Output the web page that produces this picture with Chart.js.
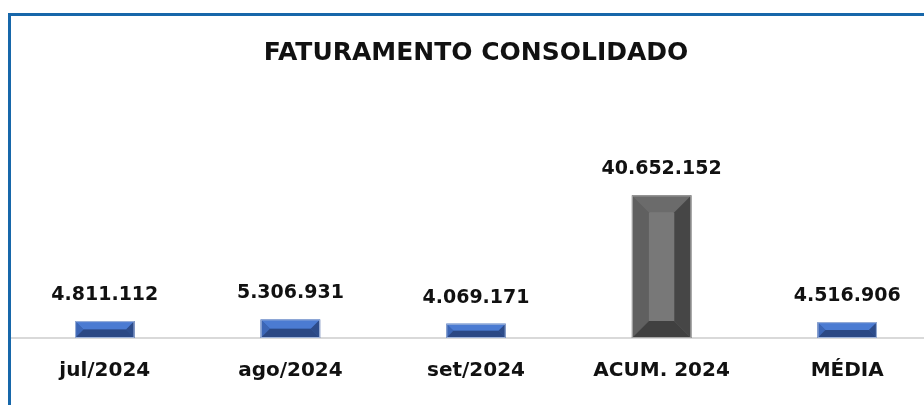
<!DOCTYPE html>
<html>
<head>
<meta charset="utf-8">
<script src="https://cdn.jsdelivr.net/npm/chart.js@4.4.1/dist/chart.umd.min.js"></script>
<style>
  html, body { margin: 0; padding: 0; background: #fff; overflow: hidden; width: 924px; height: 405px; }
  #frame { position: absolute; left: 8px; top: 13px; width: 960px; height: 430px;
           border-left: 3px solid #1767aa; border-top: 3px solid #1767aa; }
  #wrap { position: absolute; left: 0; top: 0; width: 940px; height: 396px; }
</style>
</head>
<body>
<div id="frame"></div>
<div id="wrap"><canvas id="faturamento"></canvas></div>
<script>
// dados
const categorias = ['jul/2024', 'ago/2024', 'set/2024', 'ACUM. 2024', 'MÉDIA'];
const faturamento = [4811112, 5306931, 4069171, 40652152, 4516906];

const fonte = '"DejaVu Sans", sans-serif';

function fmt(v) {
  return String(Math.round(v)).replace(/\B(?=(\d{3})+(?!\d))/g, '.');
}

// cores das facetas (topo, esquerda, centro, direita, base)
const azul = ['#4b7bd2', '#3c66b6', '#3a60aa', '#2d4c8a', '#2b4884'];
const cinza = ['#6b6b6b', '#606060', '#787878', '#464646', '#404040'];
const facetas = faturamento.map((v, i) => i === 3 ? cinza : azul);

// desenha o efeito chanfrado e os valores sobre cada barra
const chanfro = {
  id: 'chanfro',
  afterDatasetsDraw(chart) {
    const ctx = chart.ctx;
    const meta = chart.getDatasetMeta(0);
    meta.data.forEach((bar, i) => {
      const p = bar.getProps(['x', 'y', 'base', 'width'], true);
      const L = p.x - p.width / 2, R = p.x + p.width / 2;
      const T = p.y, B = p.base;
      const b = Math.min(17, (B - T) / 2, p.width / 2);
      const c = facetas[i];
      const poly = (pts, color) => {
        ctx.beginPath();
        ctx.moveTo(pts[0][0], pts[0][1]);
        pts.slice(1).forEach(q => ctx.lineTo(q[0], q[1]));
        ctx.closePath();
        ctx.fillStyle = color;
        ctx.fill();
      };
      ctx.save();
      poly([[L, T], [R, T], [R, B], [L, B]], c[2]);
      poly([[L, T], [R, T], [R - b, T + b], [L + b, T + b]], c[0]);
      poly([[L, T], [L + b, T + b], [L + b, B - b], [L, B]], c[1]);
      poly([[R, T], [R - b, T + b], [R - b, B - b], [R, B]], c[3]);
      poly([[L, B], [R, B], [R - b, B - b], [L + b, B - b]], c[4]);
      ctx.strokeStyle = i === 3 ? '#a6a6a6' : '#9fb3d9';
      ctx.lineWidth = 1;
      ctx.strokeRect(L + 0.5, T + 0.5, R - L - 1, B - T - 1);

      ctx.fillStyle = '#111';
      ctx.font = 'bold 19px ' + fonte;
      ctx.textAlign = 'center';
      ctx.textBaseline = 'middle';
      ctx.fillText(fmt(faturamento[i]), p.x, T - 26);
      ctx.restore();
    });
  }
};

new Chart(document.getElementById('faturamento'), {
  type: 'bar',
  data: {
    labels: categorias,
    datasets: [{
      label: 'Faturamento',
      data: faturamento,
      backgroundColor: 'rgba(0,0,0,0)',
      borderWidth: 0,
      categoryPercentage: 1,
      barPercentage: 0.32
    }]
  },
  options: {
    responsive: true,
    maintainAspectRatio: false,
    animation: false,
    layout: { padding: { left: 12, right: 0, top: 0, bottom: 0 } },
    plugins: {
      legend: { display: false },
      tooltip: { enabled: false },
      title: {
        display: true,
        text: 'FATURAMENTO CONSOLIDADO',
        color: '#111',
        font: { family: fonte, size: 25, weight: 'bold' },
        padding: { top: 38, bottom: 43 }
      }
    },
    scales: {
      x: {
        grid: { display: false },
        border: { display: true, color: '#d9d9d9', width: 2 },
        ticks: { color: '#111', padding: 13, font: { family: fonte, size: 20, weight: 'bold' } }
      },
      y: {
        display: false,
        min: 0,
        max: 64700000
      }
    }
  },
  plugins: [chanfro]
});
</script>
</body>
</html>
